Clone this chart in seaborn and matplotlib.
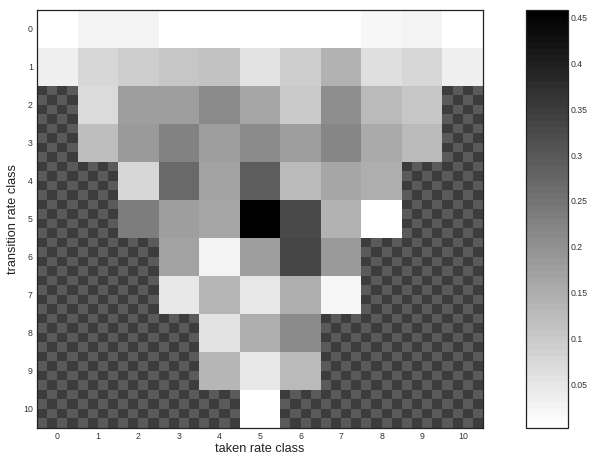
import numpy as np
import pandas as pd
import matplotlib
matplotlib.use("Agg")
import matplotlib.pyplot as plt
from matplotlib.colors import ListedColormap
import seaborn as sns

# Mean occupancy per (transition rate class, taken rate class); NaN = no data
nan = np.nan
row_0 = [0.002, 0.024, 0.029, 0.002, 0.002, 0.002, 0.002, 0.002, 0.018, 0.024, 0.002]
row_1 = [0.036, 0.074, 0.092, 0.104, 0.113, 0.056, 0.092, 0.138, 0.061, 0.077, 0.036]
row_2 = [nan, 0.070, 0.179, 0.179, 0.212, 0.163, 0.097, 0.205, 0.124, 0.104, nan]
row_3 = [nan, 0.118, 0.183, 0.226, 0.179, 0.212, 0.179, 0.221, 0.153, 0.129, nan]
row_4 = [nan, nan, 0.075, 0.271, 0.169, 0.294, 0.126, 0.163, 0.145, nan, nan]
row_5 = [nan, nan, 0.237, 0.179, 0.163, 0.459, 0.325, 0.144, 0.002, nan, nan]
row_6 = [nan, nan, nan, 0.172, 0.025, 0.179, 0.335, 0.183, nan, nan, nan]
row_7 = [nan, nan, nan, 0.049, 0.136, 0.049, 0.149, 0.018, nan, nan, nan]
row_8 = [nan, nan, nan, nan, 0.052, 0.149, 0.212, nan, nan, nan, nan]
row_9 = [nan, nan, nan, nan, 0.136, 0.049, 0.129, nan, nan, nan, nan]
row_10 = [nan, nan, nan, nan, nan, 0.002, nan, nan, nan, nan, nan]

taken_classes = [str(i) for i in range(11)]
transition_classes = [str(i) for i in range(11)]
cbar_ticks = [0.05, 0.1, 0.15, 0.2, 0.25, 0.3, 0.35, 0.4, 0.45]

grid = pd.DataFrame(
    [row_0, row_1, row_2, row_3, row_4, row_5, row_6, row_7, row_8, row_9, row_10],
    index=transition_classes, columns=taken_classes,
)

sns.set_style("white")
plt.rcParams["font.family"] = ["Liberation Sans", "DejaVu Sans"]

W, H = 592, 454
fig = plt.figure(figsize=(W / 100, H / 100), dpi=100)
ax = fig.add_axes([37 / W, 1 - 428 / H, (483 - 37) / W, (428 - 10) / H])
cax = fig.add_axes([526 / W, 1 - 428 / H, (568 - 526) / W, (428 - 9.5) / H])

cmap = plt.get_cmap("gray_r", 64)
sns.heatmap(grid, ax=ax, cbar_ax=cax, cmap=cmap, vmin=0.002, vmax=0.459,
            xticklabels=taken_classes, yticklabels=transition_classes,
            cbar_kws={"ticks": cbar_ticks})

# checkerboard behind the empty cells (4x4 squares per cell)
n = grid.shape[0]
sub = 4
ii, jj = np.indices((n * sub, n * sub))
checker = (ii + jj) % 2
ax.imshow(checker, cmap=ListedColormap(["#3c3c3c", "#5a5a5a"]),
          extent=(0, n, n, 0), aspect="auto", interpolation="nearest", zorder=0)
ax.set_xlim(0, n)
ax.set_ylim(n, 0)

for s in ax.spines.values():
    s.set_visible(True)
    s.set_color("#222222")
    s.set_linewidth(0.9)

ax.tick_params(direction="in", length=2.5, width=0.5, top=True, right=True,
               labelsize=6.3, labelcolor="#333333", color="#555555", pad=3)
ax.set_xticklabels(taken_classes, rotation=0)
ax.set_yticklabels(transition_classes, rotation=0)
ax.set_xlabel("taken rate class", fontsize=9.2, color="#222222", labelpad=1)
ax.set_ylabel("transition rate class", fontsize=9.2, color="#222222", labelpad=3)

cb = ax.collections[0].colorbar
cb.outline.set_linewidth(0.9)
cb.outline.set_edgecolor("#222222")
cb.set_ticks(cbar_ticks)
cb.set_ticklabels([f"{t:g}" for t in cbar_ticks])
cax.tick_params(direction="in", length=3, width=0.5, left=True, right=True,
                labelsize=6.3, labelcolor="#333333", color="#555555", pad=2)

fig.savefig("out.png", dpi=100)
